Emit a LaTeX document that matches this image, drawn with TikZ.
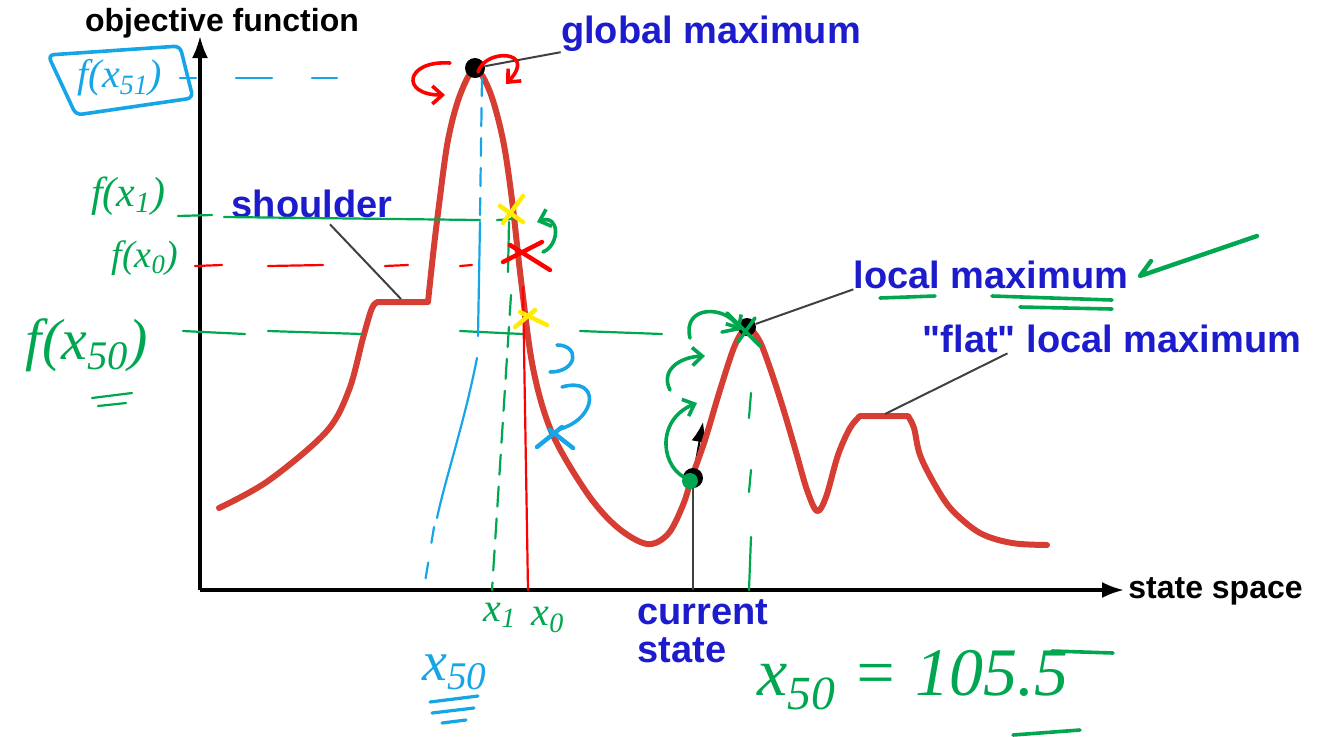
\documentclass[tikz,border=0pt]{standalone}
\usepackage{fontspec}
\setmainfont{Liberation Sans}[Ligatures=TeXOff]
\newfontfamily\handfont{Liberation Serif}
\usetikzlibrary{arrows.meta, positioning, calc}
\definecolor{curvecolor} {RGB}{214, 62, 52}
\definecolor{labelcolor} {RGB}{28, 28, 205}
\definecolor{penred}     {RGB}{255, 0, 0}
\definecolor{pengreen}   {RGB}{0, 166, 80}
\definecolor{penblue}    {RGB}{22, 165, 230}
\definecolor{penyellow}  {RGB}{255, 236, 0}
\tikzset{
	axisline/.style={
		line width=1.6pt, -{Latex[length=11pt, width=8pt]}
	},
	hillcurve/.style={
		draw=curvecolor, line width=3pt, line join=round, line cap=round
	},
	bluelabel/.style={
		text=labelcolor, inner sep=0pt,
		font=\fontsize{19}{19}\selectfont\bfseries
	},
	axislabel/.style={
		inner sep=0pt, font=\fontsize{16}{16}\selectfont\bfseries
	},
	leader/.style={
		draw=black!75, line width=1pt
	},
	statedot/.style={
		circle, fill=black, inner sep=0pt, minimum size=10pt
	},
	pen/.style={
		line width=1.8pt, line cap=round, line join=round
	},
	thinpen/.style={
		line width=1.1pt, line cap=round
	},
	penarrow/.style={
		pen, -{Straight Barb[length=5pt, width=9pt]}
	},
	handtext/.style={
		inner sep=0pt
	}
}

\begin{document}
\begin{tikzpicture}[x=0.5pt, y=-0.5pt]
	\useasboundingbox (0,0) rectangle (1330,736);
	
	%% ═══════════════════════════════
	%%  AXES
	%% ═══════════════════════════════
	\coordinate (origin) at (200,590);
	\coordinate (ytip)   at (200,36);
	\coordinate (xtip)   at (1124,590);
	\draw[axisline] (origin) -- (ytip);
	\draw[axisline] (origin) -- (xtip);
	\node[axislabel] (ylbl) at (222,23) {objective function};
	\node[axislabel, anchor=west] (xlbl) at (1128,591) {state space};
	
	%% ═══════════════════════════════
	%%  LANDSCAPE
	%% ═══════════════════════════════
	\coordinate (gmax)       at (475,68);
	\coordinate (lmax)       at (747,327);
	\coordinate (cur)        at (693,478);
	\coordinate (curfoot)    at (693,590);
	\coordinate (shoulderpt) at (401,299);
	\coordinate (flatpt)     at (885,414);
	
	% move uphill (shaft hidden by the curve)
	\draw[line width=1pt, -{Latex[length=10pt, width=8pt]}] (cur) -- (703,422);
	
	\draw[hillcurve]
	plot[smooth, tension=0.55] coordinates {(219,508) (268,481) (326,432) (349,390) (363,338) (372,308) (378,302)}
	-- (428,302)
	-- plot[smooth, tension=0.55] coordinates {(428,302) (433,255) (439,205) (448,140) (460,95) (475,69) (490,92)
		(503,140) (512,200) (521,280) (533,368) (552,433) (587,493) (617,527) (647,544) (668,534) (683,505)
		(692,477) (705,440) (720,390) (735,345) (747,328) (759,340) (770,368) (783,408) (796,452) (807,490)
		(817,511) (826,497) (838,455) (850,428) (860,416)}
	-- (908,416)
	-- plot[smooth, tension=0.55] coordinates {(908,416) (914,428) (920,455) (935,485) (952,510) (980,533) (1012,543) (1047,545)};
	
	\node[statedot] (gmaxdot) at (gmax) {};
	\node[statedot, minimum size=9pt] (lmaxdot) at (lmax) {};
	\node[statedot] (curdot) at (cur) {};
	\draw[leader] (curdot) -- (curfoot);
	
	%% ═══════════════════════════════
	%%  LABELS
	%% ═══════════════════════════════
	\node[bluelabel] (gmaxlbl)     at (711,34)   {global maximum};
	\node[bluelabel] (shoulderlbl) at (312,204)  {shoulder};
	\node[bluelabel] (lmaxlbl)     at (991,275)  {local maximum};
	\node[bluelabel] (flatlbl)     at (1112,339) {"flat" local maximum};
	\node[bluelabel, align=left] (curlbl) at (703,631) {current\\state};
	
	\draw[leader] (gmaxdot) -- (gmaxlbl.south west);
	\draw[leader] ($(shoulderlbl.south)+(18,6)$) -- (shoulderpt);
	\draw[leader] (lmaxdot) -- (lmaxlbl.south west);
	\draw[leader] (flatpt) -- ($(flatlbl.south west)+(85,0)$);
	
	%% ═══════════════════════════════
	%%  PEN NOTES — levels on the y axis
	%% ═══════════════════════════════
	\node[handtext, text=penblue, font=\handfont\itshape\fontsize{20}{24}\selectfont] (fx51) at (120,78) {f(x\textsubscript{51})};
	\draw[pen, penblue, rounded corners=3pt] (48,55) -- (180,46) -- (193,98) -- (76,115) -- cycle;
	\draw[thinpen, penblue] (180,78) -- (196,78);
	\foreach \a/\b in {236/272, 312/337}
	\draw[thinpen, penblue] (\a,78) -- (\b,78);
	
	\node[handtext, text=pengreen, font=\handfont\itshape\fontsize{21}{24}\selectfont] (fx1)  at (128,196) {f(x\textsubscript{1})};
	\node[handtext, text=pengreen, font=\handfont\itshape\fontsize{19}{22}\selectfont] (fx0)  at (145,258) {f(x\textsubscript{0})};
	\node[handtext, text=pengreen, font=\handfont\itshape\fontsize{29}{32}\selectfont] (fx50) at (87,345)  {f(x\textsubscript{50})};
	\draw[thinpen, pengreen] (92,398) -- (132,393);
	\draw[thinpen, pengreen] (98,406) -- (126,403);
	
	\draw[thinpen, pengreen] (178,216) -- (212,215);
	\draw[thinpen, pengreen] (224,217) -- (480,220);
	\draw[thinpen, pengreen] (497,220) -- (512,219);
	\foreach \a/\b in {195/222, 268/323, 385/408, 460/472}
	\draw[thinpen, penred] (\a,266) -- (\b,265);
	\foreach \a/\b in {183/245, 268/362, 460/523, 580/662}
	\draw[thinpen, pengreen] (\a,331) -- (\b,334);
	
	%% ═══════════════════════════════
	%%  PEN NOTES — verticals and steps
	%% ═══════════════════════════════
	\draw[thinpen, penblue, dash pattern=on 9pt off 6pt] (482,78) -- (480,215);
	\draw[thinpen, penblue] (480,222) -- (478,336);
	\draw[thinpen, penblue] (477,358) .. controls (465,420) and (445,480) .. (437,518);
	\draw[thinpen, penblue, dash pattern=on 8pt off 10pt] (434,527) -- (425,582);
	
	\draw[thinpen, pengreen] (509,222) -- (508,272);
	\draw[thinpen, pengreen, dash pattern=on 10pt off 6pt] (511,295) -- (492,590);
	\draw[thinpen, penred] (523,287) -- (528,590);
	\foreach \a/\b in {393/418, 470/492, 537/590}
	\draw[thinpen, pengreen] (751,\a) -- (749,\b);
	
	\draw[pen, penyellow, line width=2.2pt] (503,223) -- (523,196) (500,206) -- (523,222);
	\draw[pen, penred,    line width=2.2pt] (503,262) -- (542,242) (510,245) -- (550,270);
	\draw[pen, penyellow, line width=2.2pt] (515,327) -- (535,310) (520,312) -- (547,325);
	\draw[pen, penblue,   line width=2.2pt] (537,447) -- (562,427) (550,430) -- (573,448);
	\draw[pen, pengreen] (727,313) -- (760,346) (755,318) -- (738,342) (722,332) -- (742,328);
	
	\draw[penarrow, penred] (450,63) .. controls (405,60) and (400,95) .. (445,95);
	\draw[penarrow, penred] (478,72) .. controls (485,48) and (538,50) .. (506,84);
	\draw[penarrow, pengreen] (543,252) .. controls (560,245) and (560,214) .. (537,222);
	\draw[pen, penblue] (557,345) .. controls (580,345) and (578,372) .. (550,372);
	\draw[pen, penblue] (562,387) .. controls (600,376) and (598,418) .. (560,429);
	
	\fill[pengreen] (690,481) circle (4pt);
	\draw[penarrow, pengreen] (690,480) .. controls (660,470) and (655,420) .. (697,403);
	\draw[penarrow, pengreen] (670,390) .. controls (660,370) and (680,357) .. (705,356);
	\draw[penarrow, pengreen] (690,338) .. controls (682,305) and (725,305) .. (740,330);
	
	%% ═══════════════════════════════
	%%  PEN NOTES — values on the x axis
	%% ═══════════════════════════════
	\node[handtext, text=pengreen, font=\handfont\itshape\fontsize{20}{24}\selectfont] (x1lbl) at (500,615) {x\textsubscript{1}};
	\node[handtext, text=pengreen, font=\handfont\itshape\fontsize{20}{24}\selectfont] (x0lbl) at (548,620) {x\textsubscript{0}};
	\node[handtext, text=penblue,  font=\handfont\itshape\fontsize{28}{32}\selectfont] (x50lbl) at (455,672) {x\textsubscript{50}};
	\draw[thinpen, penblue, line width=1.6pt] (430,702) -- (478,696) (432,713) -- (474,708) (442,723) -- (466,720);
	
	\node[handtext, text=pengreen, font=\handfont\itshape\fontsize{34}{38}\selectfont] (x50val) at (913,680) {x\textsubscript{50} = 105.5};
	\draw[pen, pengreen] (1052,651) -- (1113,653);
	\draw[pen, pengreen] (1013,735) -- (1080,730);
	
	%% ═══════════════════════════════
	%%  PEN NOTES — local maximum
	%% ═══════════════════════════════
	\draw[pen, pengreen] (880,298) -- (935,296);
	\draw[pen, pengreen] (992,296) -- (1112,300);
	\draw[pen, pengreen] (1020,307) -- (1112,309);
	\draw[pen, pengreen, line width=2.2pt] (1257,236) -- (1140,276) -- (1151,261);
\end{tikzpicture}
\end{document}
